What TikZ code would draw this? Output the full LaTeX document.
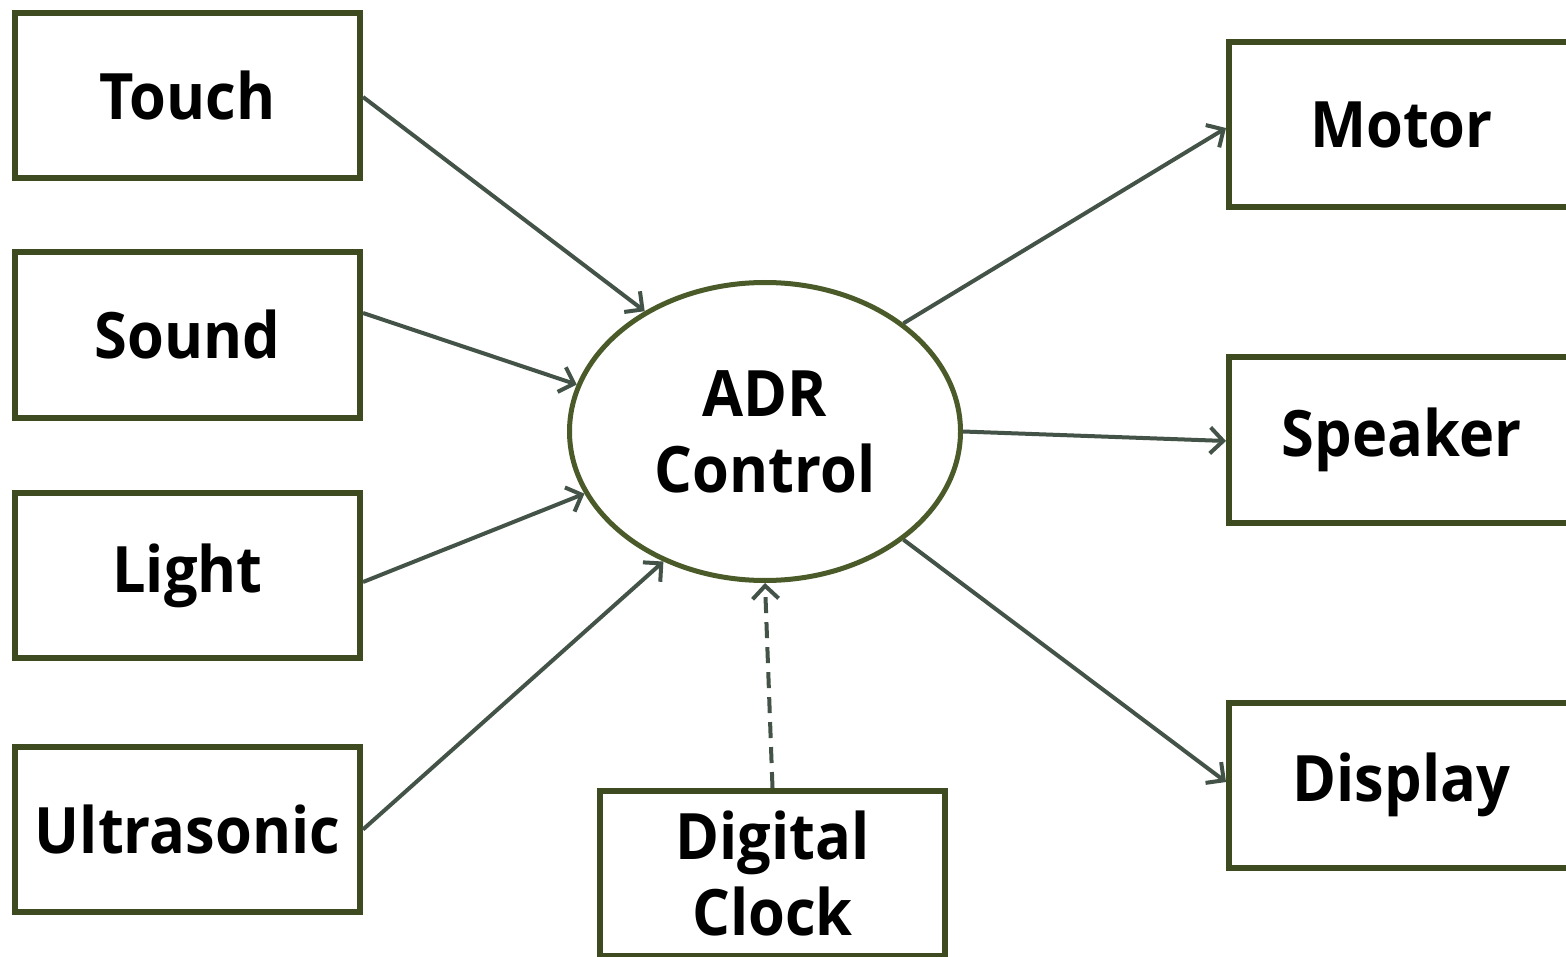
\documentclass[tikz,border=0pt]{standalone}
\usepackage{fontspec}
\setmainfont{Open Sans}[BoldFont={* Bold}, BoldFeatures={FakeStretch=0.93}]
\usetikzlibrary{arrows.meta,shapes.geometric}
\definecolor{boxline}{HTML}{3E4B20}
\definecolor{ovalline}{HTML}{4A5A28}
\definecolor{wire}{HTML}{435348}
\begin{document}
\begin{tikzpicture}[x=1pt,y=-1pt,
  lbl/.style={font=\fontsize{64}{76}\selectfont\bfseries, align=center},
  unit/.style={lbl, draw=boxline, fill=white, line width=6pt,
    minimum width=345pt, minimum height=165pt, inner sep=0pt},
  core/.style={lbl, ellipse, draw=ovalline, fill=white, line width=5pt,
    minimum width=391pt, minimum height=298pt, inner sep=0pt},
  wirearrow/.style={draw=wire, line width=4pt,
    -{Straight Barb[length=13pt,width=26pt,line width=4pt]}}]
  \useasboundingbox (0,0) rectangle (1566,957);

  % sensors on the left
  \node[unit] (touch) at (187.5,95.5)  {Touch};
  \node[unit] (sound) at (187.5,335)   {Sound};
  \node[unit] (light) at (187.5,575.5) {Light};
  \node[unit] (ultra) at (187.5,829.5) {Ultrasonic};

  % controller
  \node[core] (adr) at (765,431.5) {ADR\\Control};

  % actuators on the right
  \node[unit] (motor)   at (1401.5,125) {Motor};
  \node[unit] (speaker) at (1401.5,440) {Speaker};
  \node[unit] (display) at (1401.5,785) {Display};

  % clock below
  \node[unit] (clock) at (772.5,873.5) {Digital\\Clock};

  % inputs
  \draw[wirearrow] ([yshift=-1.5pt]touch.east) -- (adr.135);
  \draw[wirearrow] ([yshift=22pt]sound.east) -- (adr.166);
  \draw[wirearrow] ([yshift=-6.5pt]light.east) -- (adr.199);
  \draw[wirearrow] (ultra.east) -- (adr.232);
  \draw[wirearrow, dash pattern=on 16pt off 9pt] (clock.north) -- (adr.270);

  % outputs
  \draw[wirearrow] (adr.38) -- ([yshift=-3pt]motor.west);
  \draw[wirearrow] (adr.0) -- ([yshift=-1pt]speaker.west);
  \draw[wirearrow] (adr.-38) -- ([yshift=3pt]display.west);
\end{tikzpicture}
\end{document}
